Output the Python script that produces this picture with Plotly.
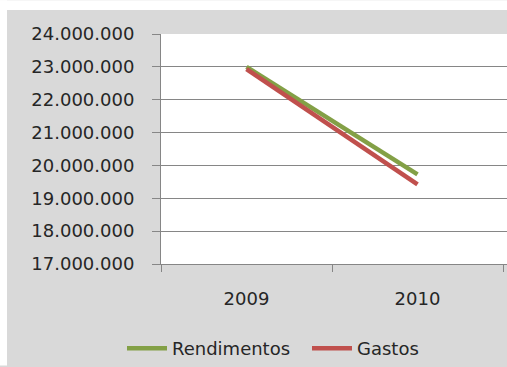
import plotly.graph_objects as go

years = ["2009", "2010"]
rendimentos = [23000000, 19730000]
gastos = [22930000, 19420000]
y_ticks = [17000000, 18000000, 19000000, 20000000, 21000000, 22000000, 23000000, 24000000]

W, H = 507, 367
L, R, T, B = 161, 0, 34, 102
pw, ph = W - L - R, H - T - B
cat_w = 171.0  # pixels per category

def px(x):
    return (x - L) / pw

def py(y):
    return (H - B - y) / ph

font = dict(family="DejaVu Sans", size=18, color="#262626")
grid = "#868686"

fig = go.Figure()
fig.add_trace(go.Scatter(x=years, y=rendimentos, name="Rendimentos", mode="lines",
                         line=dict(color="#83a046", width=4.5)))
fig.add_trace(go.Scatter(x=years, y=gastos, name="Gastos", mode="lines",
                         line=dict(color="#c0504d", width=4.5)))

shapes = [
    dict(type="rect", xref="paper", yref="paper", x0=px(0), x1=px(W), y0=py(0), y1=py(10),
         fillcolor="white", line_width=0, layer="below"),
    dict(type="rect", xref="paper", yref="paper", x0=px(0), x1=px(7), y0=py(0), y1=py(H),
         fillcolor="white", line_width=0, layer="below"),
]

fig.update_layout(
    width=W, height=H,
    margin=dict(l=L, r=R, t=T, b=B, pad=0),
    paper_bgcolor="#d9d9d9",
    plot_bgcolor="white",
    separators=",.",
    font=font,
    showlegend=True,
    legend=dict(orientation="h", x=px(122), xanchor="left", y=py(350), yanchor="middle",
                bgcolor="rgba(0,0,0,0)", font=font, itemwidth=40,
                entrywidth=130, entrywidthmode="pixels"),
    shapes=shapes,
    xaxis=dict(type="category", range=[-0.5, -0.5 + pw / cat_w], showgrid=False, showline=True,
               linecolor=grid, linewidth=1, ticks="outside", tickson="boundaries",
               ticklen=7, tickcolor=grid, ticklabelstandoff=18, tickfont=font),
    yaxis=dict(range=[17000000, 24000000], tickvals=y_ticks, tickformat=",d",
               showgrid=True, gridcolor=grid, gridwidth=1, showline=True,
               linecolor=grid, linewidth=1, ticks="outside", ticklen=8, tickcolor=grid,
               ticklabelstandoff=14, tickfont=font, zeroline=False),
)

fig.write_html("out.html")
